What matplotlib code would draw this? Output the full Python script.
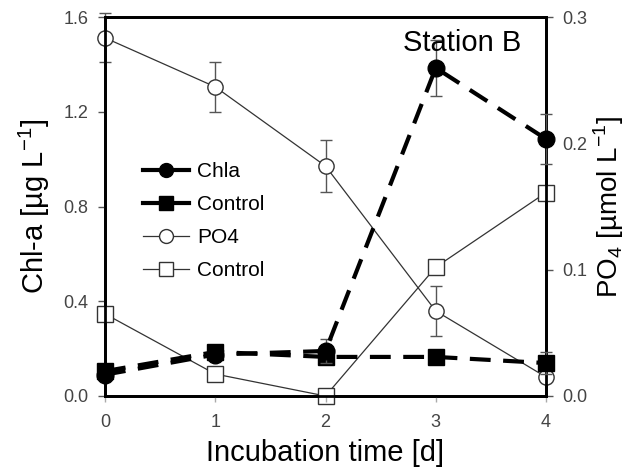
import matplotlib
matplotlib.use("Agg")
import matplotlib.pyplot as plt
from matplotlib.lines import Line2D

plt.rcParams['font.family'] = ['Liberation Sans', 'DejaVu Sans']
plt.rcParams['mathtext.fontset'] = 'custom'
plt.rcParams['mathtext.rm'] = 'Liberation Sans'

# dados
dias = [0, 1, 2, 3, 4]
chla = [0.09, 0.175, 0.19, 1.385, 1.085]
chla_err = [0, 0, 0.05, 0.12, 0.107]
chla_ctrl = [0.105, 0.186, 0.165, 0.165, 0.139]
chla_ctrl_err = [0, 0, 0, 0, 0.045]
po4 = [0.2835, 0.2447, 0.182, 0.0673, 0.015]
po4_err = [0.0195, 0.02, 0.0206, 0.0198, 0.003]
po4_ctrl = [0.065, 0.0174, 0.0, 0.102, 0.161]

fig = plt.figure(figsize=(6.3, 4.76), dpi=100)
ax = fig.add_axes([105/630, 1-396/476, 441/630, 379/476])
ax2 = ax.twinx()
ax.set_zorder(ax2.get_zorder() + 1)
ax.patch.set_visible(False)

cinza = '#333333'

# PO4 (eixo direito)
ax2.errorbar(dias, po4, yerr=po4_err, color=cinza, lw=0.9, marker='o', ms=11,
             mfc='white', mec=cinza, mew=1, ecolor='#555555', elinewidth=1, capsize=4,
             clip_on=False, zorder=3)
ax2.plot(dias, po4_ctrl, color=cinza, lw=0.9, marker='s', ms=12, mfc='white',
         mec=cinza, mew=1, clip_on=False, zorder=3)

# Chla (eixo esquerdo)
ax.errorbar(dias, chla_ctrl, yerr=chla_ctrl_err, color='black', lw=3, ls=(0, (5, 3)),
            marker='s', ms=11, ecolor='#555555', elinewidth=1, capsize=4,
            clip_on=False, zorder=4)
ax.errorbar(dias, chla, yerr=chla_err, color='black', lw=3, ls=(0, (5, 3)),
            marker='o', ms=12, ecolor='#555555', elinewidth=1, capsize=4,
            clip_on=False, zorder=5)

ax.set_xlim(0, 4)
ax.set_ylim(0, 1.6)
ax2.set_ylim(0, 0.3)
ax.set_xticks(dias)
ax.set_yticks([0.0, 0.4, 0.8, 1.2, 1.6])
ax.set_yticklabels(['0.0', '0.4', '0.8', '1.2', '1.6'])
ax2.set_yticks([0.0, 0.1, 0.2, 0.3])
ax2.set_yticklabels(['0.0', '0.1', '0.2', '0.3'])

for a in (ax, ax2):
    for s in a.spines.values():
        s.set_linewidth(2)
        s.set_color('black')
ax.tick_params(axis='y', direction='out', length=5, width=1, color='#555555',
               labelsize=13, labelcolor='#444444', pad=7)
ax.tick_params(axis='x', direction='out', length=4, width=1, color='#aaaaaa',
               labelsize=13, labelcolor='#444444', pad=9)
ax2.tick_params(axis='y', direction='out', length=5, width=1, color='#555555',
                labelsize=13, labelcolor='#444444', pad=7)

ax.set_xlabel('Incubation time [d]', fontsize=21, labelpad=6)
ax.set_ylabel('Chl-a [µg L$^{\\mathregular{-1}}$]', fontsize=21, labelpad=8)
ax2.set_ylabel('PO$_{\\mathregular{4}}$ [µmol L$^{\\mathregular{-1}}$]', fontsize=20,
               rotation=90, labelpad=3)

fig.text(403/630, 1-43/476, 'Station B', fontsize=21, va='center', ha='left')

handles = [
    Line2D([], [], color='black', lw=3, marker='o', ms=10),
    Line2D([], [], color='black', lw=3, marker='s', ms=10),
    Line2D([], [], color=cinza, lw=0.9, marker='o', ms=10, mfc='white', mec=cinza),
    Line2D([], [], color=cinza, lw=0.9, marker='s', ms=10, mfc='white', mec=cinza),
]
fig.legend(handles, ['Chla', 'Control', 'PO4', 'Control'], loc='upper left',
           bbox_to_anchor=(143/630, 1-162/476), frameon=False, fontsize=15,
           handlelength=2.2, handletextpad=0.4, labelspacing=0.68,
           borderpad=0, borderaxespad=0)

fig.savefig('out.png', dpi=100)
